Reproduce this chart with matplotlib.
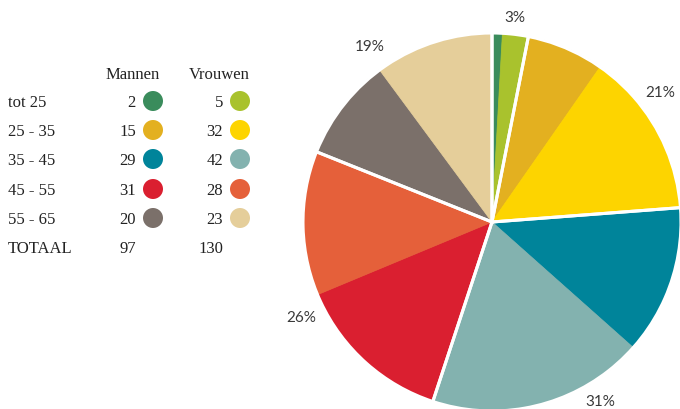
import numpy as np
import matplotlib.pyplot as plt
from matplotlib.patches import Circle

# gegevens
groepen = ["tot 25", "25 - 35", "35 - 45", "45 - 55", "55 - 65"]
mannen = [2, 15, 29, 31, 20]
vrouwen = [5, 32, 42, 28, 23]
kleur_m = ["#3A8C5C", "#E3B020", "#00849A", "#DA1F30", "#7B706A"]
kleur_v = ["#A9C22D", "#FDD400", "#83B2AF", "#E5603A", "#E5CE9A"]

# plaats van de percentages (hoek met de klok mee vanaf boven, straal in px)
label_hoek = [6.4, 52.5, 149.0, 243.3, 325.1]
label_straal = [205, 212, 210, 214, 213]

W, H = 680, 410
fig = plt.figure(figsize=(W / 100, H / 100), dpi=100)
ax = fig.add_axes([0, 0, 1, 1])

cx, cy, R = 492, H - 223, 189

waarden, kleuren = [], []
for m, v, km, kv in zip(mannen, vrouwen, kleur_m, kleur_v):
    waarden += [m, v]
    kleuren += [km, kv]

wedges, _ = ax.pie(waarden, colors=kleuren, startangle=90, counterclock=False,
                   center=(cx, cy), radius=R, wedgeprops=dict(linewidth=0.6))
for w in wedges:
    w.set_edgecolor(w.get_facecolor())

# witte scheidingslijnen alleen tussen de leeftijdsgroepen
totaal_groep = [m + v for m, v in zip(mannen, vrouwen)]
ax.pie(totaal_groep, colors=["none"] * len(groepen), startangle=90,
       counterclock=False, center=(cx, cy), radius=R,
       wedgeprops=dict(linewidth=2.2, edgecolor="white", fill=False))

totaal = sum(totaal_groep)
for t, hoek, r in zip(totaal_groep, label_hoek, label_straal):
    a = np.radians(hoek)
    ax.text(cx + r * np.sin(a), H - 222 + r * np.cos(a),
            f"{round(t / totaal * 100)}%",
            ha="center", va="center", fontsize=11, color="#3a3a3a",
            family="Lato")

# tabel links
serif = dict(family="Liberation Serif", fontsize=12, color="#222222")
rij_y = [103, 132, 161, 191, 220]
ax.text(133, H - 75, "Mannen", ha="center", va="center", **serif)
ax.text(219, H - 75, "Vrouwen", ha="center", va="center", **serif)
for g, m, v, km, kv, y in zip(groepen, mannen, vrouwen, kleur_m, kleur_v, rij_y):
    yy = H - y
    ax.text(8, yy, g, ha="left", va="center", **serif)
    ax.text(136, yy, str(m), ha="right", va="center", **serif)
    ax.add_patch(Circle((153, H - y + 1), 10, color=km, lw=0))
    ax.text(223, yy, str(v), ha="right", va="center", **serif)
    ax.add_patch(Circle((240, H - y + 1), 10, color=kv, lw=0))
ax.text(8, H - 249, "TOTAAL", ha="left", va="center", **serif)
ax.text(136, H - 249, str(sum(mannen)), ha="right", va="center", **serif)
ax.text(223, H - 249, str(sum(vrouwen)), ha="right", va="center", **serif)

ax.set_xlim(0, W)
ax.set_ylim(0, H)
ax.set_aspect("equal")
ax.axis("off")

fig.savefig("out.png", dpi=100)
